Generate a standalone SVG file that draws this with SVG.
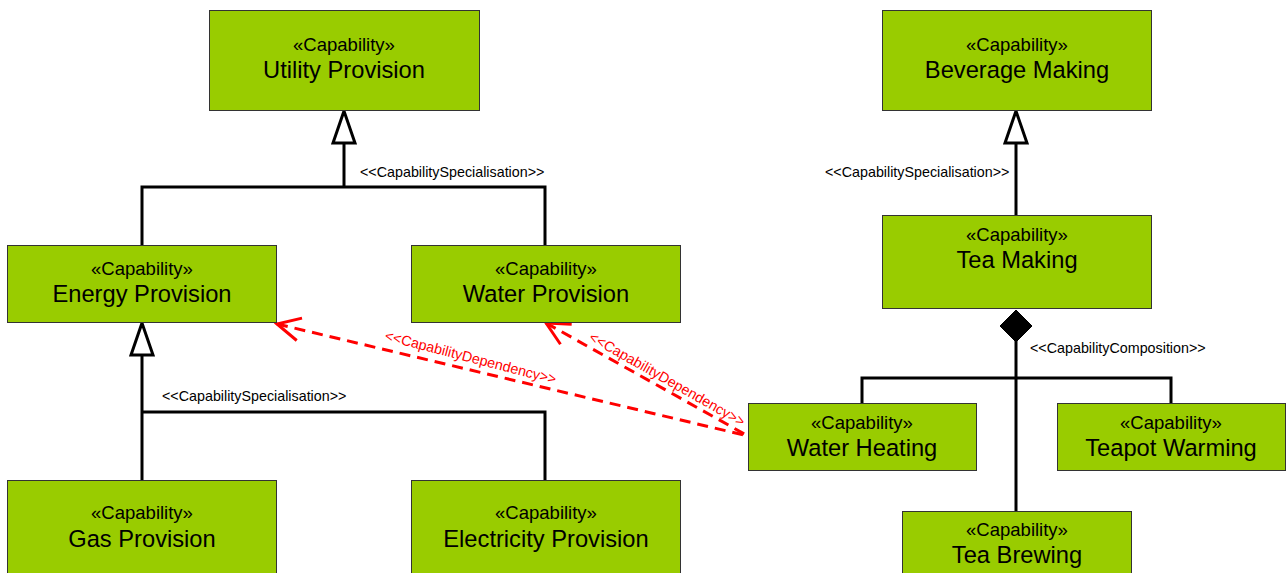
<svg xmlns="http://www.w3.org/2000/svg" width="1286" height="573" viewBox="0 0 1286 573">
<style>
.box{fill:#99CC00;stroke:#333;stroke-width:1}
.st{font-family:"Liberation Sans",Arial,sans-serif;font-size:18.5px;fill:#000;text-anchor:middle}
.nm{font-family:"Liberation Sans",Arial,sans-serif;font-size:23.7px;fill:#000;text-anchor:middle}
.lbl{font-family:"Liberation Sans",Arial,sans-serif;font-size:14.3px;fill:#000}
.dl{font-family:"Liberation Sans",Arial,sans-serif;font-size:14.3px;fill:#FF0000}
.ln{fill:none;stroke:#000;stroke-width:3}
.tri{fill:#fff;stroke:#000;stroke-width:3;stroke-linejoin:miter}
.dep{fill:none;stroke:#FF0000;stroke-width:3;stroke-dasharray:11 7}
</style>
<defs>
<marker id="openArrow" markerUnits="userSpaceOnUse" viewBox="-2 -14 30 28" refX="0" refY="0" markerWidth="30" markerHeight="28" orient="auto" overflow="visible">
<path d="M23,-11.5 L0,0 L23,11.5" fill="none" stroke="#FF0000" stroke-width="3" stroke-dasharray="none"/>
</marker>
</defs>
<g id="connectors">
<polyline class="ln" points="344,143 344,187"/>
<polyline class="ln" points="142,245 142,187 545,187 545,245"/>
<polygon class="tri" points="344,111 333,143 355,143"/>
<text class="lbl" x="360" y="177">&lt;&lt;CapabilitySpecialisation&gt;&gt;</text>
<polyline class="ln" points="142,355 142,480"/>
<polyline class="ln" points="142,412 545,412 545,480"/>
<polygon class="tri" points="142,323 131,355 153,355"/>
<text class="lbl" x="162" y="401">&lt;&lt;CapabilitySpecialisation&gt;&gt;</text>
<polyline class="ln" points="1016,143 1016,215"/>
<polygon class="tri" points="1016,111 1005,143 1027,143"/>
<text class="lbl" x="825" y="177">&lt;&lt;CapabilitySpecialisation&gt;&gt;</text>
<polyline class="ln" points="1016,341 1016,511"/>
<polyline class="ln" points="862,403 862,378 1171,378 1171,403"/>
<polygon points="1016,310 1032,326 1016,342 1000,326" fill="#000" stroke="#000" stroke-width="1"/>
<text class="lbl" x="1030" y="353">&lt;&lt;CapabilityComposition&gt;&gt;</text>
<path class="dep" d="M277,324 L748,436" marker-start="url(#openArrow)"/>
<path class="dep" d="M546,323 L748,436" marker-start="url(#openArrow)"/>
<text class="dl" transform="translate(384,340) rotate(14.5)">&lt;&lt;CapabilityDependency&gt;&gt;</text>
<text class="dl" transform="translate(588,340) rotate(29.5)">&lt;&lt;CapabilityDependency&gt;&gt;</text>
</g>
<g id="utility-provision">
<rect class="box" x="209.5" y="10.5" width="270" height="100"/>
<text class="st" x="344" y="51">«Capability»</text>
<text class="nm" x="344" y="78">Utility Provision</text>
</g>
<g id="beverage-making">
<rect class="box" x="882.5" y="10.5" width="269" height="100"/>
<text class="st" x="1017" y="51">«Capability»</text>
<text class="nm" x="1017" y="78">Beverage Making</text>
</g>
<g id="energy-provision">
<rect class="box" x="7.5" y="245.5" width="269" height="77"/>
<text class="st" x="142" y="275">«Capability»</text>
<text class="nm" x="142" y="302">Energy Provision</text>
</g>
<g id="water-provision">
<rect class="box" x="411.5" y="245.5" width="269" height="77"/>
<text class="st" x="546" y="275">«Capability»</text>
<text class="nm" x="546" y="302">Water Provision</text>
</g>
<g id="tea-making">
<rect class="box" x="882.5" y="215.5" width="269" height="93"/>
<text class="st" x="1017" y="241">«Capability»</text>
<text class="nm" x="1017" y="268">Tea Making</text>
</g>
<g id="water-heating">
<rect class="box" x="748.5" y="403.5" width="228" height="67"/>
<text class="st" x="862" y="429">«Capability»</text>
<text class="nm" x="862" y="456">Water Heating</text>
</g>
<g id="teapot-warming">
<rect class="box" x="1057.5" y="403.5" width="228" height="67"/>
<text class="st" x="1171" y="429">«Capability»</text>
<text class="nm" x="1171" y="456">Teapot Warming</text>
</g>
<g id="gas-provision">
<rect class="box" x="7.5" y="480.5" width="269" height="120"/>
<text class="st" x="142" y="519">«Capability»</text>
<text class="nm" x="142" y="547">Gas Provision</text>
</g>
<g id="electricity-provision">
<rect class="box" x="411.5" y="480.5" width="269" height="120"/>
<text class="st" x="546" y="519">«Capability»</text>
<text class="nm" x="546" y="547">Electricity Provision</text>
</g>
<g id="tea-brewing">
<rect class="box" x="902.5" y="511.5" width="229" height="90"/>
<text class="st" x="1017" y="536">«Capability»</text>
<text class="nm" x="1017" y="563">Tea Brewing</text>
</g>
</svg>
